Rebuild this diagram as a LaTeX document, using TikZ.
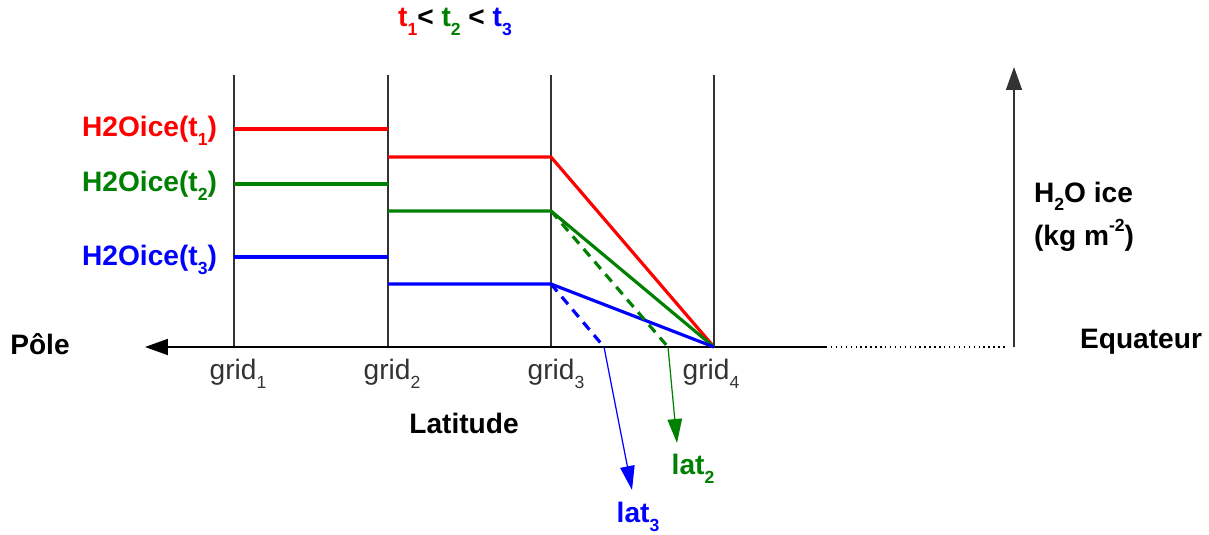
\documentclass[tikz,border=0pt]{standalone}
\usepackage{fontspec}
\setmainfont{Liberation Sans}
\usetikzlibrary{arrows.meta}
\definecolor{icered}{RGB}{255,0,0}
\definecolor{icegreen}{RGB}{0,128,0}
\definecolor{iceblue}{RGB}{0,0,255}
\newcommand{\lowsub}[1]{\raisebox{-0.3em}{\fontsize{10}{10}\selectfont#1}}
\newcommand{\highsup}[1]{\raisebox{0.5em}{\fontsize{10}{10}\selectfont#1}}
\tikzset{
  gridline/.style={draw=black!80, line width=0.8pt},
  level/.style={line width=1.8pt},
  dashlevel/.style={line width=1.8pt, dash pattern=on 5.5pt off 4pt},
  latarrow/.style={-{Triangle[length=4.8mm,width=2.9mm]}, line width=0.7pt},
  axis/.style={-{Triangle[length=4.6mm,width=3.2mm]}, line width=1.1pt},
  lab/.style={font=\fontsize{16}{19}\selectfont\bfseries, inner sep=1pt},
  gridlab/.style={font=\fontsize{16}{19}\selectfont, text=black!80, inner sep=1pt}
}

\begin{document}
\begin{tikzpicture}[x=0.02cm, y=-0.02cm]
        \useasboundingbox (0,0) rectangle (1209,534);
        % grid columns
        \coordinate (g1t) at (234,75);  \coordinate (g1b) at (234,347);
        \coordinate (g2t) at (388,75);  \coordinate (g2b) at (388,347);
        \coordinate (g3t) at (551,75);  \coordinate (g3b) at (551,347);
        \coordinate (g4t) at (714,75);  \coordinate (g4b) at (714,347);
        \draw[gridline] (g1t) -- (g1b);
        \draw[gridline] (g2t) -- (g2b);
        \draw[gridline] (g3t) -- (g3b);
        \draw[gridline] (g4t) -- (g4b);
        % axes
        \coordinate (axend) at (826,347);
        \coordinate (pole) at (145,347);
        \coordinate (dotend) at (1006,347);
        \coordinate (ybase) at (1014,347);
        \coordinate (ytop) at (1014,67);
        \draw[axis] (axend) -- (pole);
        \draw[line width=0.8pt, dotted] (axend) -- (dotend);
        \draw[axis, line width=0.8pt, draw=black!80, fill=black] (ybase) -- (ytop);
        % ice levels
        \coordinate (r1) at (234,129); \coordinate (r2) at (388,129);
        \coordinate (r3) at (388,157); \coordinate (r4) at (551,157);
        \coordinate (v1) at (234,184); \coordinate (v2) at (388,184);
        \coordinate (v3) at (388,211); \coordinate (v4) at (551,211);
        \coordinate (b1) at (234,257); \coordinate (b2) at (388,257);
        \coordinate (b3) at (388,284); \coordinate (b4) at (551,284);
        \coordinate (lat2pt) at (668,347);
        \coordinate (lat3pt) at (604,347);
        \draw[level, icered] (r1) -- (r2);
        \draw[level, icered] (r3) -- (r4) -- (g4b);
        \draw[level, icegreen] (v1) -- (v2);
        \draw[level, icegreen] (v3) -- (v4) -- (g4b);
        \draw[level, iceblue] (b1) -- (b2);
        \draw[level, iceblue] (b3) -- (b4) -- (g4b);
        \draw[dashlevel, icegreen] (v4) -- (lat2pt);
        \draw[dashlevel, iceblue] (b4) -- (lat3pt);
        % labels
        \node[lab, text=icered, anchor=east] (ice1) at (219,131) {H2Oice(t\lowsub{1})};
        \node[lab, text=icegreen, anchor=east] (ice2) at (219,186) {H2Oice(t\lowsub{2})};
        \node[lab, text=iceblue, anchor=east] (ice3) at (219,260) {H2Oice(t\lowsub{3})};
        \node[lab] (order) at (455,22) {\textcolor{icered}{t\lowsub{1}}< \textcolor{icegreen}{t\lowsub{2}} < \textcolor{iceblue}{t\lowsub{3}}};
        \node[gridlab] (grid1) at (238,374) {grid\lowsub{1}};
        \node[gridlab] (grid2) at (392,374) {grid\lowsub{2}};
        \node[gridlab] (grid3) at (556,374) {grid\lowsub{3}};
        \node[gridlab] (grid4) at (711,374) {grid\lowsub{4}};
        \node[lab] (polelab) at (40,344) {Pôle};
        \node[lab] (eqlab) at (1141,342) {Equateur};
        \node[lab] (latlab) at (464,423) {Latitude};
        \node[lab, anchor=west, align=left] (unit) at (1032,217) {H\lowsub{2}O ice\\[4pt](kg m\highsup{-2})};
        \node[lab, text=icegreen] (lat2) at (693,469) {lat\lowsub{2}};
        \node[lab, text=iceblue] (lat3) at (638,517) {lat\lowsub{3}};
        \coordinate (lat2tip) at (677,443);
        \coordinate (lat3tip) at (632,490);
        \draw[latarrow, icegreen] (lat2pt) -- (lat2tip);
        \draw[latarrow, iceblue] (lat3pt) -- (lat3tip);
    \end{tikzpicture}
\end{document}
